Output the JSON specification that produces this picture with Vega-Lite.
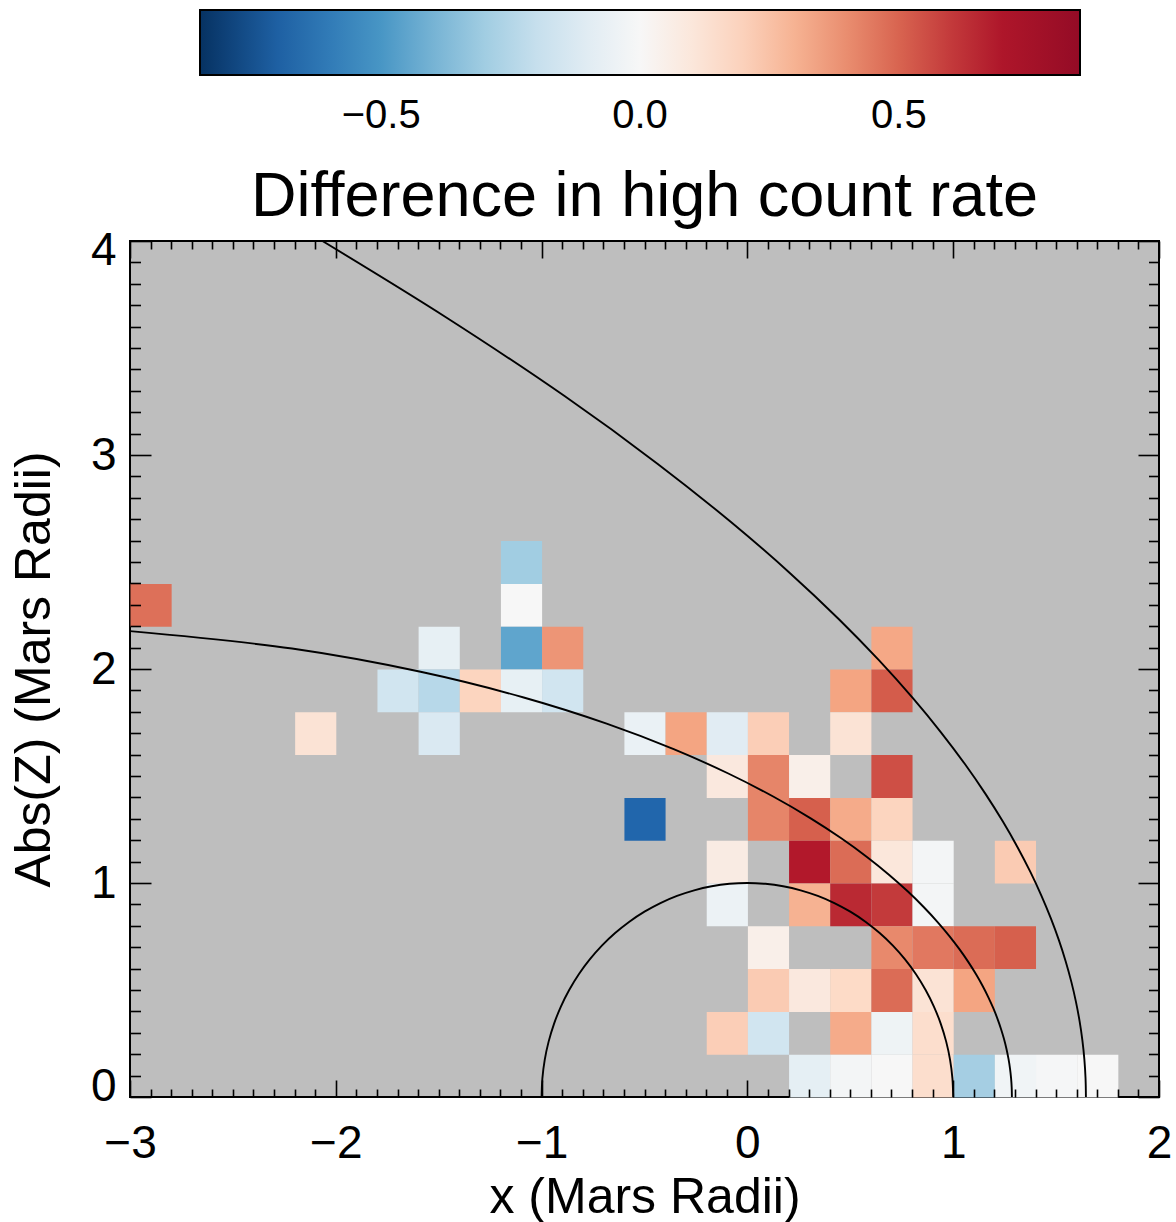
{
  "$schema": "https://vega.github.io/schema/vega-lite/v6.json",
  "autosize": {"type": "none"},
  "width": 1029,
  "height": 856,
  "padding": {"left": 130, "top": 241, "right": 17, "bottom": 125},
  "background": "white",
  "config": {
    "font": "Liberation Sans",
    "view": {"fill": "#bebebe", "stroke": "black", "strokeWidth": 2},
    "axis": {"domain": false, "grid": false, "tickColor": "black", "tickWidth": 1.6, "labelColor": "black", "titleColor": "black", "labelFont": "Liberation Sans", "titleFont": "Liberation Sans", "titleFontWeight": "normal", "labelOverlap": false, "labelBound": false}
  },
  "title": {"text": "Difference in high count rate", "fontSize": 63, "font": "Liberation Sans", "fontWeight": "normal", "color": "black", "anchor": "middle", "offset": 22, "dy": 241},
  "datasets": {
    "cells": [
      {"x": -1.2, "z": 2.4, "v": -0.30},
      {"x": -3.0, "z": 2.2, "v": 0.47},
      {"x": -1.2, "z": 2.2, "v": 0.0},
      {"x": -1.6, "z": 2.0, "v": -0.07},
      {"x": -1.2, "z": 2.0, "v": -0.45},
      {"x": -1.0, "z": 2.0, "v": 0.38},
      {"x": 0.6, "z": 2.0, "v": 0.33},
      {"x": -1.8, "z": 1.8, "v": -0.17},
      {"x": -1.6, "z": 1.8, "v": -0.24},
      {"x": -1.4, "z": 1.8, "v": 0.19},
      {"x": -1.2, "z": 1.8, "v": -0.07},
      {"x": -1.0, "z": 1.8, "v": -0.17},
      {"x": 0.4, "z": 1.8, "v": 0.34},
      {"x": 0.6, "z": 1.8, "v": 0.52},
      {"x": -2.2, "z": 1.6, "v": 0.12},
      {"x": -1.6, "z": 1.6, "v": -0.13},
      {"x": -0.6, "z": 1.6, "v": -0.06},
      {"x": -0.4, "z": 1.6, "v": 0.34},
      {"x": -0.2, "z": 1.6, "v": -0.10},
      {"x": 0.0, "z": 1.6, "v": 0.21},
      {"x": 0.4, "z": 1.6, "v": 0.12},
      {"x": -0.2, "z": 1.4, "v": 0.09},
      {"x": 0.0, "z": 1.4, "v": 0.42},
      {"x": 0.2, "z": 1.4, "v": 0.05},
      {"x": 0.6, "z": 1.4, "v": 0.55},
      {"x": -0.6, "z": 1.2, "v": -0.68},
      {"x": 0.0, "z": 1.2, "v": 0.42},
      {"x": 0.2, "z": 1.2, "v": 0.51},
      {"x": 0.4, "z": 1.2, "v": 0.32},
      {"x": 0.6, "z": 1.2, "v": 0.19},
      {"x": -0.2, "z": 1.0, "v": 0.07},
      {"x": 0.2, "z": 1.0, "v": 0.68},
      {"x": 0.4, "z": 1.0, "v": 0.48},
      {"x": 0.6, "z": 1.0, "v": 0.10},
      {"x": 0.8, "z": 1.0, "v": -0.02},
      {"x": 1.2, "z": 1.0, "v": 0.22},
      {"x": -0.2, "z": 0.8, "v": -0.05},
      {"x": 0.2, "z": 0.8, "v": 0.30},
      {"x": 0.4, "z": 0.8, "v": 0.64},
      {"x": 0.6, "z": 0.8, "v": 0.60},
      {"x": 0.8, "z": 0.8, "v": -0.02},
      {"x": 0.0, "z": 0.6, "v": 0.05},
      {"x": 0.6, "z": 0.6, "v": 0.41},
      {"x": 0.8, "z": 0.6, "v": 0.45},
      {"x": 1.0, "z": 0.6, "v": 0.48},
      {"x": 1.2, "z": 0.6, "v": 0.51},
      {"x": 0.0, "z": 0.4, "v": 0.22},
      {"x": 0.2, "z": 0.4, "v": 0.09},
      {"x": 0.4, "z": 0.4, "v": 0.17},
      {"x": 0.6, "z": 0.4, "v": 0.48},
      {"x": 0.8, "z": 0.4, "v": 0.12},
      {"x": 1.0, "z": 0.4, "v": 0.34},
      {"x": -0.2, "z": 0.2, "v": 0.21},
      {"x": 0.0, "z": 0.2, "v": -0.17},
      {"x": 0.4, "z": 0.2, "v": 0.32},
      {"x": 0.6, "z": 0.2, "v": -0.04},
      {"x": 0.8, "z": 0.2, "v": 0.15},
      {"x": 0.2, "z": 0.0, "v": -0.08},
      {"x": 0.4, "z": 0.0, "v": -0.02},
      {"x": 0.6, "z": 0.0, "v": 0.0},
      {"x": 0.8, "z": 0.0, "v": 0.15},
      {"x": 1.0, "z": 0.0, "v": -0.29},
      {"x": 1.2, "z": 0.0, "v": -0.03},
      {"x": 1.4, "z": 0.0, "v": -0.01},
      {"x": 1.6, "z": 0.0, "v": 0.0}
    ],
    "curves": [
      {"curve": "planet", "i": 0, "px": 1.0, "py": 0.0},
      {"curve": "planet", "i": 1, "px": 0.9962, "py": 0.0872},
      {"curve": "planet", "i": 2, "px": 0.9848, "py": 0.1736},
      {"curve": "planet", "i": 3, "px": 0.9659, "py": 0.2588},
      {"curve": "planet", "i": 4, "px": 0.9397, "py": 0.342},
      {"curve": "planet", "i": 5, "px": 0.9063, "py": 0.4226},
      {"curve": "planet", "i": 6, "px": 0.866, "py": 0.5},
      {"curve": "planet", "i": 7, "px": 0.8192, "py": 0.5736},
      {"curve": "planet", "i": 8, "px": 0.766, "py": 0.6428},
      {"curve": "planet", "i": 9, "px": 0.7071, "py": 0.7071},
      {"curve": "planet", "i": 10, "px": 0.6428, "py": 0.766},
      {"curve": "planet", "i": 11, "px": 0.5736, "py": 0.8192},
      {"curve": "planet", "i": 12, "px": 0.5, "py": 0.866},
      {"curve": "planet", "i": 13, "px": 0.4226, "py": 0.9063},
      {"curve": "planet", "i": 14, "px": 0.342, "py": 0.9397},
      {"curve": "planet", "i": 15, "px": 0.2588, "py": 0.9659},
      {"curve": "planet", "i": 16, "px": 0.1736, "py": 0.9848},
      {"curve": "planet", "i": 17, "px": 0.0872, "py": 0.9962},
      {"curve": "planet", "i": 18, "px": 0.0, "py": 1.0},
      {"curve": "planet", "i": 19, "px": -0.0872, "py": 0.9962},
      {"curve": "planet", "i": 20, "px": -0.1736, "py": 0.9848},
      {"curve": "planet", "i": 21, "px": -0.2588, "py": 0.9659},
      {"curve": "planet", "i": 22, "px": -0.342, "py": 0.9397},
      {"curve": "planet", "i": 23, "px": -0.4226, "py": 0.9063},
      {"curve": "planet", "i": 24, "px": -0.5, "py": 0.866},
      {"curve": "planet", "i": 25, "px": -0.5736, "py": 0.8192},
      {"curve": "planet", "i": 26, "px": -0.6428, "py": 0.766},
      {"curve": "planet", "i": 27, "px": -0.7071, "py": 0.7071},
      {"curve": "planet", "i": 28, "px": -0.766, "py": 0.6428},
      {"curve": "planet", "i": 29, "px": -0.8192, "py": 0.5736},
      {"curve": "planet", "i": 30, "px": -0.866, "py": 0.5},
      {"curve": "planet", "i": 31, "px": -0.9063, "py": 0.4226},
      {"curve": "planet", "i": 32, "px": -0.9397, "py": 0.342},
      {"curve": "planet", "i": 33, "px": -0.9659, "py": 0.2588},
      {"curve": "planet", "i": 34, "px": -0.9848, "py": 0.1736},
      {"curve": "planet", "i": 35, "px": -0.9962, "py": 0.0872},
      {"curve": "planet", "i": 36, "px": -1.0, "py": 0.0},
      {"curve": "mpb", "i": 0, "px": 1.28526, "py": 0.0},
      {"curve": "mpb", "i": 1, "px": 1.28425, "py": 0.04412},
      {"curve": "mpb", "i": 2, "px": 1.2812, "py": 0.08838},
      {"curve": "mpb", "i": 3, "px": 1.27605, "py": 0.13292},
      {"curve": "mpb", "i": 4, "px": 1.26875, "py": 0.17789},
      {"curve": "mpb", "i": 5, "px": 1.25919, "py": 0.22345},
      {"curve": "mpb", "i": 6, "px": 1.24722, "py": 0.26975},
      {"curve": "mpb", "i": 7, "px": 1.23266, "py": 0.31696},
      {"curve": "mpb", "i": 8, "px": 1.21529, "py": 0.36525},
      {"curve": "mpb", "i": 9, "px": 1.19482, "py": 0.41482},
      {"curve": "mpb", "i": 10, "px": 1.17093, "py": 0.46588},
      {"curve": "mpb", "i": 11, "px": 1.14316, "py": 0.51865},
      {"curve": "mpb", "i": 12, "px": 1.11103, "py": 0.57337},
      {"curve": "mpb", "i": 13, "px": 1.07392, "py": 0.63031},
      {"curve": "mpb", "i": 14, "px": 1.03106, "py": 0.68978},
      {"curve": "mpb", "i": 15, "px": 0.98152, "py": 0.75209},
      {"curve": "mpb", "i": 16, "px": 0.92417, "py": 0.81763},
      {"curve": "mpb", "i": 17, "px": 0.85759, "py": 0.88678},
      {"curve": "mpb", "i": 18, "px": 0.78, "py": 0.96},
      {"curve": "mpb", "i": 19, "px": 0.6892, "py": 1.03774},
      {"curve": "mpb", "i": 20, "px": 0.58242, "py": 1.12054},
      {"curve": "mpb", "i": 21, "px": 0.45608, "py": 1.20889},
      {"curve": "mpb", "i": 22, "px": 0.30565, "py": 1.30328},
      {"curve": "mpb", "i": 23, "px": 0.12524, "py": 1.40414},
      {"curve": "mpb", "i": 24, "px": -0.09273, "py": 1.51161},
      {"curve": "mpb", "i": 25, "px": -0.3582, "py": 1.6255},
      {"curve": "mpb", "i": 26, "px": -0.68402, "py": 1.74476},
      {"curve": "mpb", "i": 27, "px": -1.08696, "py": 1.86696},
      {"curve": "mpb", "i": 28, "px": -1.58798, "py": 1.98698},
      {"curve": "mpb", "i": 29, "px": -2.21268, "py": 2.09551},
      {"curve": "mpb", "i": 30, "px": -3.0, "py": 2.1769},
      {"curve": "bs", "i": 0, "px": 1.64493, "py": 0.0},
      {"curve": "bs", "i": 1, "px": 1.64303, "py": 0.08776},
      {"curve": "bs", "i": 2, "px": 1.63735, "py": 0.17586},
      {"curve": "bs", "i": 3, "px": 1.62774, "py": 0.26466},
      {"curve": "bs", "i": 4, "px": 1.61413, "py": 0.35456},
      {"curve": "bs", "i": 5, "px": 1.59623, "py": 0.4459},
      {"curve": "bs", "i": 6, "px": 1.57377, "py": 0.53911},
      {"curve": "bs", "i": 7, "px": 1.54636, "py": 0.63464},
      {"curve": "bs", "i": 8, "px": 1.51351, "py": 0.73297},
      {"curve": "bs", "i": 9, "px": 1.47463, "py": 0.83463},
      {"curve": "bs", "i": 10, "px": 1.42895, "py": 0.94022},
      {"curve": "bs", "i": 11, "px": 1.37555, "py": 1.05046},
      {"curve": "bs", "i": 12, "px": 1.31327, "py": 1.16613},
      {"curve": "bs", "i": 13, "px": 1.24068, "py": 1.28814},
      {"curve": "bs", "i": 14, "px": 1.15596, "py": 1.41759},
      {"curve": "bs", "i": 15, "px": 1.05687, "py": 1.55577},
      {"curve": "bs", "i": 16, "px": 0.9405, "py": 1.70421},
      {"curve": "bs", "i": 17, "px": 0.80316, "py": 1.86483},
      {"curve": "bs", "i": 18, "px": 0.64, "py": 2.04},
      {"curve": "bs", "i": 19, "px": 0.44466, "py": 2.23265},
      {"curve": "bs", "i": 20, "px": 0.20859, "py": 2.44661},
      {"curve": "bs", "i": 21, "px": -0.07991, "py": 2.68671},
      {"curve": "bs", "i": 22, "px": -0.43719, "py": 2.9596},
      {"curve": "bs", "i": 23, "px": -0.88673, "py": 3.27409},
      {"curve": "bs", "i": 24, "px": -1.46309, "py": 3.64267},
      {"curve": "bs", "i": 25, "px": -2.065, "py": 4.0}
    ]
  },
  "layer": [
    {
      "data": {"name": "cells"},
      "mark": {"type": "rect"},
      "encoding": {
        "x": {
          "field": "x", "type": "quantitative", "bin": {"binned": true, "step": 0.2},
          "scale": {"domain": [-3, 2], "nice": false, "zero": false},
          "axis": {
            "orient": "bottom", "title": "x (Mars Radii)", "titleFontSize": 50, "titlePadding": -3,
            "labelFontSize": 46, "labelPadding": 41, "labelFlush": false,
            "values": [-3,-2.9,-2.8,-2.7,-2.6,-2.5,-2.4,-2.3,-2.2,-2.1,-2,-1.9,-1.8,-1.7,-1.6,-1.5,-1.4,-1.3,-1.2,-1.1,-1,-0.9,-0.8,-0.7,-0.6,-0.5,-0.4,-0.3,-0.2,-0.1,0,0.1,0.2,0.3,0.4,0.5,0.6,0.7,0.8,0.9,1,1.1,1.2,1.3,1.4,1.5,1.6,1.7,1.8,1.9,2],
            "labelExpr": "abs(datum.value - round(datum.value)) < 0.001 ? format(datum.value, 'd') : ''",
            "tickSize": {"condition": {"test": "abs(datum.value - round(datum.value)) < 0.001", "value": -17}, "value": -8}
          }
        },
        "y": {
          "field": "z", "type": "quantitative", "bin": {"binned": true, "step": 0.2},
          "scale": {"domain": [0, 4], "nice": false, "zero": false},
          "axis": {
            "orient": "left", "title": "Abs(Z) (Mars Radii)", "titleFontSize": 50, "titlePadding": 31,
            "labelFontSize": 46, "labelPadding": 35, "labelFlush": true, "labelFlushOffset": 13,
            "values": [0,0.1,0.2,0.3,0.4,0.5,0.6,0.7,0.8,0.9,1,1.1,1.2,1.3,1.4,1.5,1.6,1.7,1.8,1.9,2,2.1,2.2,2.3,2.4,2.5,2.6,2.7,2.8,2.9,3,3.1,3.2,3.3,3.4,3.5,3.6,3.7,3.8,3.9,4],
            "labelExpr": "abs(datum.value - round(datum.value)) < 0.001 ? format(datum.value, 'd') : ''",
            "tickSize": {"condition": {"test": "abs(datum.value - round(datum.value)) < 0.001", "value": -21}, "value": -10.5}
          }
        },
        "color": {
          "field": "v", "type": "quantitative",
          "scale": {"domain": [-0.85, -0.68, -0.51, -0.34, -0.17, 0, 0.17, 0.34, 0.51, 0.68, 0.85], "range": ["#063262", "#2166ac", "#4393c3", "#92c5de", "#d1e5f0", "#f7f7f7", "#fddbc7", "#f4a582", "#d6604d", "#b2182b", "#940b26"], "interpolate": "rgb"},
          "legend": {
            "orient": "none", "direction": "horizontal", "legendX": 70, "legendY": -231,
            "gradientLength": 880, "gradientThickness": 65, "gradientStrokeColor": "black", "gradientStrokeWidth": 2,
            "values": [-0.5, 0, 0.5], "format": ".1f", "labelFontSize": 40, "labelFont": "Liberation Sans", "labelColor": "black",
            "labelOffset": 21, "labelOverlap": false, "title": null, "padding": 0
          }
        }
      }
    },
    {
      "data": {"name": "curves"},
      "mark": {"type": "line", "color": "black", "strokeWidth": 1.9, "clip": true, "interpolate": "catmull-rom"},
      "encoding": {
        "x": {
          "field": "px", "type": "quantitative",
          "axis": {
            "orient": "top", "title": null, "labels": false,
            "values": [-3,-2.9,-2.8,-2.7,-2.6,-2.5,-2.4,-2.3,-2.2,-2.1,-2,-1.9,-1.8,-1.7,-1.6,-1.5,-1.4,-1.3,-1.2,-1.1,-1,-0.9,-0.8,-0.7,-0.6,-0.5,-0.4,-0.3,-0.2,-0.1,0,0.1,0.2,0.3,0.4,0.5,0.6,0.7,0.8,0.9,1,1.1,1.2,1.3,1.4,1.5,1.6,1.7,1.8,1.9,2],
            "tickSize": {"condition": {"test": "abs(datum.value - round(datum.value)) < 0.001", "value": -17}, "value": -8}
          }
        },
        "y": {
          "field": "py", "type": "quantitative",
          "axis": {
            "orient": "right", "title": null, "labels": false,
            "values": [0,0.1,0.2,0.3,0.4,0.5,0.6,0.7,0.8,0.9,1,1.1,1.2,1.3,1.4,1.5,1.6,1.7,1.8,1.9,2,2.1,2.2,2.3,2.4,2.5,2.6,2.7,2.8,2.9,3,3.1,3.2,3.3,3.4,3.5,3.6,3.7,3.8,3.9,4],
            "tickSize": {"condition": {"test": "abs(datum.value - round(datum.value)) < 0.001", "value": -21}, "value": -10.5}
          }
        },
        "detail": {"field": "curve", "type": "nominal"},
        "order": {"field": "i", "type": "quantitative"}
      }
    }
  ],
  "resolve": {"axis": {"x": "independent", "y": "independent"}}
}
